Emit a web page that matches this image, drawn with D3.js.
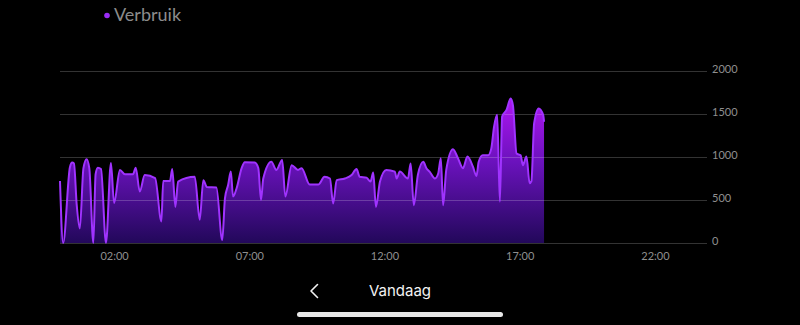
<!DOCTYPE html>
<html>
<head>
<meta charset="utf-8">
<script src="https://cdn.jsdelivr.net/npm/d3@7"></script>
<style>
  html, body { margin: 0; padding: 0; background: #000; }
  svg { display: block; }
</style>
</head>
<body>
<div id="chart"></div>
<script>
// Tick labels
var yTicks = [0, 500, 1000, 1500, 2000];
var xTickLabels = ["02:00", "07:00", "12:00", "17:00", "22:00"];
var seriesName = "Verbruik";

// Series: time of day and usage
var times = [
    "00:00", "00:07", "00:22", "00:27", "00:31", "00:37", "00:44", "00:52", "00:59", "01:05",
    "01:14", "01:19", "01:24", "01:31", "01:42", "01:53", "02:00", "02:13", "02:24", "02:42",
    "02:48", "02:57", "03:08", "03:31", "03:45", "03:49", "04:04", "04:09", "04:16", "04:22",
    "04:59", "05:10", "05:18", "05:26", "05:47", "06:00", "06:06", "06:13", "06:19", "06:24",
    "06:32", "06:43", "06:50", "07:12", "07:20", "07:26", "07:31", "07:49", "08:00", "08:13",
    "08:20", "08:34", "08:48", "08:56", "09:14", "09:33", "09:47", "09:59", "10:06", "10:14",
    "10:32", "10:47", "10:58", "11:05", "11:20", "11:29", "11:35", "11:41", "11:50", "12:04",
    "12:23", "12:27", "12:34", "12:52", "12:58", "13:05", "13:14", "13:26", "13:33", "13:40",
    "13:52", "13:59", "14:05", "14:10", "14:17", "14:32", "14:43", "14:54", "15:04", "15:16",
    "15:24", "15:29", "15:38", "15:50", "15:57", "16:03", "16:10", "16:16", "16:21", "16:31",
    "16:40", "16:45", "16:53", "17:02", "17:07", "17:15", "17:22", "17:26", "17:32", "17:42",
    "17:52", "17:54"
];
var values = [
    720, 0, 880, 935, 925, 450, 170, 870, 975, 870,
    0, 800, 875, 860, 0, 930, 465, 850, 800, 800,
    875, 600, 790, 755, 250, 720, 720, 860, 420, 715,
    770, 270, 730, 650, 645, 35, 520, 675, 830, 540,
    640, 870, 940, 935, 870, 500, 750, 945, 850, 965,
    540, 905, 850, 870, 680, 680, 770, 750, 460, 730,
    750, 790, 860, 770, 760, 715, 820, 420, 715, 850,
    830, 750, 830, 750, 925, 440, 790, 945, 870, 830,
    750, 805, 985, 440, 850, 1090, 985, 870, 1005, 890,
    780, 945, 1020, 1020, 1100, 1350, 1490, 480, 1470, 1550,
    1680, 1600, 1040, 1020, 905, 1005, 695, 720, 1390, 1565,
    1490, 1410
];

var W = 800, H = 325;
var parseTime = d3.timeParse("%H:%M");

var data = times.map(function (t, i) {
    return { date: parseTime(t), value: values[i] };
});

var svg = d3.select("#chart").append("svg")
    .attr("width", W)
    .attr("height", H);

// Scales
var xScale = d3.scaleTime()
    .domain([parseTime("00:00"), new Date(1900, 0, 2)])
    .range([60, 709]);
var yScale = d3.scaleLinear().domain([0, 2000]).range([243, 71]);

var gridLeft = 60, gridRight = 707;

// Gradient for the area
var defs = svg.append("defs");
var grad = defs.append("linearGradient")
    .attr("id", "areaFill")
    .attr("gradientUnits", "userSpaceOnUse")
    .attr("x1", 0).attr("x2", 0)
    .attr("y1", yScale(1700)).attr("y2", yScale(0));
grad.append("stop").attr("offset", "0%").attr("stop-color", "#b015f2");
grad.append("stop").attr("offset", "45%").attr("stop-color", "#6a12bc");
grad.append("stop").attr("offset", "100%").attr("stop-color", "#22085a");

// Area and line
var area = d3.area()
    .x(function (d) { return xScale(d.date); })
    .y0(yScale(0))
    .y1(function (d) { return yScale(d.value); })
    .curve(d3.curveMonotoneX);

var line = d3.line()
    .x(function (d) { return xScale(d.date); })
    .y(function (d) { return yScale(d.value); })
    .curve(d3.curveMonotoneX);

svg.append("path")
    .datum(data)
    .attr("fill", "url(#areaFill)")
    .attr("d", area);

// Grid lines (drawn over the fill, as in the app)
svg.append("g")
    .attr("class", "grid")
    .selectAll("line")
    .data(yTicks)
    .enter().append("line")
    .attr("x1", gridLeft)
    .attr("x2", gridRight)
    .attr("y1", function (d) { return yScale(d) + 0.5; })
    .attr("y2", function (d) { return yScale(d) + 0.5; })
    .attr("stroke", "rgba(255,255,255,0.2)")
    .attr("stroke-width", 1);

svg.append("path")
    .datum(data)
    .attr("fill", "none")
    .attr("stroke", "#a033ff")
    .attr("stroke-width", 2)
    .attr("stroke-linejoin", "round")
    .attr("d", line);

// Y axis labels (right side)
var yAxis = d3.axisRight(yScale)
    .tickValues(yTicks)
    .tickSize(0)
    .tickPadding(0)
    .tickFormat(function (d) { return d; });

var yG = svg.append("g")
    .attr("class", "y axis")
    .attr("transform", "translate(712,-2)")
    .call(yAxis);
yG.select(".domain").remove();
yG.selectAll("text")
    .attr("x", 0)
    .style("font-family", "Lato, sans-serif")
    .style("font-size", "11px")
    .attr("fill", "#8f8f8f");

// X axis labels
var xAxis = d3.axisBottom(xScale)
    .tickValues(xTickLabels.map(parseTime))
    .tickSize(0)
    .tickPadding(0)
    .tickFormat(d3.timeFormat("%H:%M"));

var xG = svg.append("g")
    .attr("class", "x axis")
    .attr("transform", "translate(0,252)")
    .call(xAxis);
xG.select(".domain").remove();
xG.selectAll("text")
    .style("font-family", "Lato, sans-serif")
    .style("font-size", "11px")
    .attr("fill", "#8f8f8f");

// Legend
svg.append("circle")
    .attr("cx", 107)
    .attr("cy", 15.5)
    .attr("r", 2.8)
    .attr("fill", "#9a2cf5");
svg.append("text")
    .attr("x", 114)
    .attr("y", 21)
    .style("font-family", "Lato, sans-serif")
    .style("font-size", "18px")
    .attr("fill", "#8c8c8c")
    .text(seriesName);

// Bottom navigation
svg.append("path")
    .attr("d", "M317.5,284.5 L311,291 L317.5,297.5")
    .attr("fill", "none")
    .attr("stroke", "#f2f2f2")
    .attr("stroke-width", 1.6)
    .attr("stroke-linecap", "round")
    .attr("stroke-linejoin", "round");
svg.append("text")
    .attr("x", 400)
    .attr("y", 295.5)
    .attr("text-anchor", "middle")
    .style("font-family", "Inter, 'Open Sans', sans-serif")
    .style("font-size", "15px")
    .attr("fill", "#f2f2f2")
    .text("Vandaag");

// Home indicator
svg.append("rect")
    .attr("x", 297)
    .attr("y", 312)
    .attr("width", 206)
    .attr("height", 5)
    .attr("rx", 2.5)
    .attr("fill", "#e8e8e8");
</script>
</body>
</html>
